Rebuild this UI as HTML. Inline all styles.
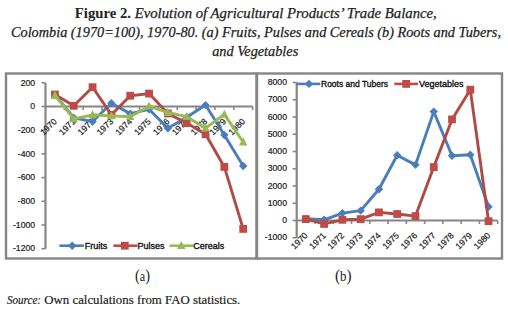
<!DOCTYPE html>
<html><head><meta charset="utf-8"><style>
html,body{margin:0;padding:0;background:#fff;}
body{width:508px;height:310px;overflow:hidden;position:relative;}
svg{position:absolute;left:0;top:0;}
.ax{font-family:"Liberation Sans",sans-serif;font-size:8.7px;fill:#1a1a1a;stroke:#1a1a1a;stroke-width:0.2px;}
.lg{font-family:"Liberation Sans",sans-serif;font-size:9px;fill:#111;stroke:#111;stroke-width:0.35px;}
.t{font-family:"Liberation Serif",serif;font-size:14.5px;fill:#222;stroke:#222;stroke-width:0.25px;}
.s{font-family:"Liberation Serif",serif;font-size:13px;fill:#222;stroke:#222;stroke-width:0.2px;}
.p{font-family:"Liberation Serif",serif;font-size:14px;fill:#222;}
</style></head><body>
<svg width="508" height="310" viewBox="0 0 508 310">
<text class="t" x="74.8" y="17.5" textLength="362" lengthAdjust="spacingAndGlyphs"><tspan font-weight="bold" style="stroke-width:0">Figure 2.</tspan><tspan font-style="italic"> Evolution of Agricultural Products’ Trade Balance,</tspan></text>
<text class="t" x="11" y="36.5" textLength="490" lengthAdjust="spacingAndGlyphs" font-style="italic">Colombia (1970=100), 1970-80. (a) Fruits, Pulses and Cereals (b) Roots and Tubers,</text>
<text class="t" x="212.2" y="55.5" textLength="86" lengthAdjust="spacingAndGlyphs" font-style="italic">and Vegetables</text>
<line x1="45.5" y1="82.8" x2="45.5" y2="248.7" stroke="#868686" stroke-width="2.2"/>
<line x1="41.5" y1="82.8" x2="45.5" y2="82.8" stroke="#868686" stroke-width="1.6"/>
<text x="35.2" y="85.5" class="ax" text-anchor="end">200</text>
<line x1="41.5" y1="106.5" x2="45.5" y2="106.5" stroke="#868686" stroke-width="1.6"/>
<text x="35.2" y="109.2" class="ax" text-anchor="end">0</text>
<line x1="41.5" y1="130.2" x2="45.5" y2="130.2" stroke="#868686" stroke-width="1.6"/>
<text x="35.2" y="132.9" class="ax" text-anchor="end">-200</text>
<line x1="41.5" y1="153.9" x2="45.5" y2="153.9" stroke="#868686" stroke-width="1.6"/>
<text x="35.2" y="156.6" class="ax" text-anchor="end">-400</text>
<line x1="41.5" y1="177.6" x2="45.5" y2="177.6" stroke="#868686" stroke-width="1.6"/>
<text x="35.2" y="180.3" class="ax" text-anchor="end">-600</text>
<line x1="41.5" y1="201.3" x2="45.5" y2="201.3" stroke="#868686" stroke-width="1.6"/>
<text x="35.2" y="204" class="ax" text-anchor="end">-800</text>
<line x1="41.5" y1="225" x2="45.5" y2="225" stroke="#868686" stroke-width="1.6"/>
<text x="35.2" y="227.7" class="ax" text-anchor="end">-1000</text>
<line x1="41.5" y1="248.7" x2="45.5" y2="248.7" stroke="#868686" stroke-width="1.6"/>
<text x="35.2" y="251.4" class="ax" text-anchor="end">-1200</text>
<line x1="45.5" y1="106.5" x2="252.6" y2="106.5" stroke="#868686" stroke-width="2.2"/>
<line x1="64.33" y1="106.5" x2="64.33" y2="110.0" stroke="#868686" stroke-width="1.6"/>
<line x1="83.15" y1="106.5" x2="83.15" y2="110.0" stroke="#868686" stroke-width="1.6"/>
<line x1="101.98" y1="106.5" x2="101.98" y2="110.0" stroke="#868686" stroke-width="1.6"/>
<line x1="120.81" y1="106.5" x2="120.81" y2="110.0" stroke="#868686" stroke-width="1.6"/>
<line x1="139.64" y1="106.5" x2="139.64" y2="110.0" stroke="#868686" stroke-width="1.6"/>
<line x1="158.46" y1="106.5" x2="158.46" y2="110.0" stroke="#868686" stroke-width="1.6"/>
<line x1="177.29" y1="106.5" x2="177.29" y2="110.0" stroke="#868686" stroke-width="1.6"/>
<line x1="196.12" y1="106.5" x2="196.12" y2="110.0" stroke="#868686" stroke-width="1.6"/>
<line x1="214.95" y1="106.5" x2="214.95" y2="110.0" stroke="#868686" stroke-width="1.6"/>
<line x1="233.77" y1="106.5" x2="233.77" y2="110.0" stroke="#868686" stroke-width="1.6"/>
<line x1="252.6" y1="106.5" x2="252.6" y2="110.0" stroke="#868686" stroke-width="1.6"/>
<text class="ax" text-anchor="end" transform="translate(57.31 122) rotate(-45)">1970</text>
<text class="ax" text-anchor="end" transform="translate(76.14 122) rotate(-45)">1971</text>
<text class="ax" text-anchor="end" transform="translate(94.97 122) rotate(-45)">1972</text>
<text class="ax" text-anchor="end" transform="translate(113.8 122) rotate(-45)">1973</text>
<text class="ax" text-anchor="end" transform="translate(132.62 122) rotate(-45)">1974</text>
<text class="ax" text-anchor="end" transform="translate(151.45 122) rotate(-45)">1975</text>
<text class="ax" text-anchor="end" transform="translate(170.28 122) rotate(-45)">1976</text>
<text class="ax" text-anchor="end" transform="translate(189.1 122) rotate(-45)">1977</text>
<text class="ax" text-anchor="end" transform="translate(207.93 122) rotate(-45)">1978</text>
<text class="ax" text-anchor="end" transform="translate(226.76 122) rotate(-45)">1979</text>
<text class="ax" text-anchor="end" transform="translate(245.59 122) rotate(-45)">1980</text>
<polyline points="54.91,94.65 73.74,117.76 92.57,121.55 111.4,103.3 130.22,113.61 149.05,109.34 167.88,128.19 186.7,117.16 205.53,105.08 224.36,135.06 243.19,165.99" fill="none" stroke="#4A7EBB" stroke-width="2.9" stroke-linejoin="round"/>
<path d="M54.91 90.45L59.11 94.65L54.91 98.85L50.71 94.65Z" fill="#4A7EBB"/>
<path d="M73.74 113.56L77.94 117.76L73.74 121.96L69.54 117.76Z" fill="#4A7EBB"/>
<path d="M92.57 117.35L96.77 121.55L92.57 125.75L88.37 121.55Z" fill="#4A7EBB"/>
<path d="M111.4 99.1L115.6 103.3L111.4 107.5L107.2 103.3Z" fill="#4A7EBB"/>
<path d="M130.22 109.41L134.42 113.61L130.22 117.81L126.02 113.61Z" fill="#4A7EBB"/>
<path d="M149.05 105.14L153.25 109.34L149.05 113.54L144.85 109.34Z" fill="#4A7EBB"/>
<path d="M167.88 123.99L172.08 128.19L167.88 132.39L163.68 128.19Z" fill="#4A7EBB"/>
<path d="M186.7 112.96L190.9 117.16L186.7 121.36L182.5 117.16Z" fill="#4A7EBB"/>
<path d="M205.53 100.88L209.73 105.08L205.53 109.28L201.33 105.08Z" fill="#4A7EBB"/>
<path d="M224.36 130.86L228.56 135.06L224.36 139.26L220.16 135.06Z" fill="#4A7EBB"/>
<path d="M243.19 161.79L247.39 165.99L243.19 170.19L238.99 165.99Z" fill="#4A7EBB"/>
<polyline points="54.91,94.53 73.74,105.79 92.57,87.18 111.4,114.8 130.22,95.72 149.05,93.58 167.88,113.49 186.7,123.09 205.53,134.23 224.36,166.94 243.19,228.91" fill="none" stroke="#B04A45" stroke-width="2.9" stroke-linejoin="round"/>
<rect x="51.01" y="90.63" width="7.8" height="7.8" fill="#BE4B48"/>
<rect x="69.84" y="101.89" width="7.8" height="7.8" fill="#BE4B48"/>
<rect x="88.67" y="83.28" width="7.8" height="7.8" fill="#BE4B48"/>
<rect x="107.5" y="110.89" width="7.8" height="7.8" fill="#BE4B48"/>
<rect x="126.32" y="91.82" width="7.8" height="7.8" fill="#BE4B48"/>
<rect x="145.15" y="89.68" width="7.8" height="7.8" fill="#BE4B48"/>
<rect x="163.98" y="109.59" width="7.8" height="7.8" fill="#BE4B48"/>
<rect x="182.8" y="119.19" width="7.8" height="7.8" fill="#BE4B48"/>
<rect x="201.63" y="130.33" width="7.8" height="7.8" fill="#BE4B48"/>
<rect x="220.46" y="163.03" width="7.8" height="7.8" fill="#BE4B48"/>
<rect x="239.29" y="225.01" width="7.8" height="7.8" fill="#BE4B48"/>
<polyline points="54.91,95.24 73.74,118.94 92.57,114.8 111.4,115.86 130.22,116.69 149.05,106.14 167.88,112.54 186.7,116.69 205.53,128.07 224.36,114.44 243.19,142.05" fill="none" stroke="#98B954" stroke-width="2.9" stroke-linejoin="round"/>
<path d="M54.91 90.54L59.11 98.64L50.71 98.64Z" fill="#98B954"/>
<path d="M73.74 114.24L77.94 122.34L69.54 122.34Z" fill="#98B954"/>
<path d="M92.57 110.09L96.77 118.2L88.37 118.2Z" fill="#98B954"/>
<path d="M111.4 111.16L115.6 119.26L107.2 119.26Z" fill="#98B954"/>
<path d="M130.22 111.99L134.42 120.09L126.02 120.09Z" fill="#98B954"/>
<path d="M149.05 101.44L153.25 109.54L144.85 109.54Z" fill="#98B954"/>
<path d="M167.88 107.84L172.08 115.94L163.68 115.94Z" fill="#98B954"/>
<path d="M186.7 111.99L190.9 120.09L182.5 120.09Z" fill="#98B954"/>
<path d="M205.53 123.37L209.73 131.47L201.33 131.47Z" fill="#98B954"/>
<path d="M224.36 109.74L228.56 117.84L220.16 117.84Z" fill="#98B954"/>
<path d="M243.19 137.35L247.39 145.45L238.99 145.45Z" fill="#98B954"/>
<line x1="59.4" y1="245.7" x2="83.9" y2="245.7" stroke="#4A7EBB" stroke-width="2.6"/>
<path d="M72.2 241.5L76.4 245.7L72.2 249.9L68 245.7Z" fill="#4A7EBB"/>
<text x="84.8" y="248.9" class="lg">Fruits</text>
<line x1="113.4" y1="245.7" x2="137.6" y2="245.7" stroke="#BE4B48" stroke-width="2.6"/>
<rect x="120.9" y="241.8" width="7.8" height="7.8" fill="#BE4B48"/>
<text x="137.6" y="248.9" class="lg">Pulses</text>
<line x1="169.5" y1="245.7" x2="193.5" y2="245.7" stroke="#98B954" stroke-width="2.6"/>
<path d="M181.3 241L185.5 249.1L177.1 249.1Z" fill="#98B954"/>
<text x="193.2" y="248.9" class="lg">Cereals</text>
<line x1="296.7" y1="82.5" x2="296.7" y2="237.75" stroke="#868686" stroke-width="2.2"/>
<line x1="292.7" y1="82.5" x2="296.7" y2="82.5" stroke="#868686" stroke-width="1.6"/>
<text x="287" y="85.2" class="ax" text-anchor="end">8000</text>
<line x1="292.7" y1="99.75" x2="296.7" y2="99.75" stroke="#868686" stroke-width="1.6"/>
<text x="287" y="102.45" class="ax" text-anchor="end">7000</text>
<line x1="292.7" y1="117" x2="296.7" y2="117" stroke="#868686" stroke-width="1.6"/>
<text x="287" y="119.7" class="ax" text-anchor="end">6000</text>
<line x1="292.7" y1="134.25" x2="296.7" y2="134.25" stroke="#868686" stroke-width="1.6"/>
<text x="287" y="136.95" class="ax" text-anchor="end">5000</text>
<line x1="292.7" y1="151.5" x2="296.7" y2="151.5" stroke="#868686" stroke-width="1.6"/>
<text x="287" y="154.2" class="ax" text-anchor="end">4000</text>
<line x1="292.7" y1="168.75" x2="296.7" y2="168.75" stroke="#868686" stroke-width="1.6"/>
<text x="287" y="171.45" class="ax" text-anchor="end">3000</text>
<line x1="292.7" y1="186" x2="296.7" y2="186" stroke="#868686" stroke-width="1.6"/>
<text x="287" y="188.7" class="ax" text-anchor="end">2000</text>
<line x1="292.7" y1="203.25" x2="296.7" y2="203.25" stroke="#868686" stroke-width="1.6"/>
<text x="287" y="205.95" class="ax" text-anchor="end">1000</text>
<line x1="292.7" y1="220.5" x2="296.7" y2="220.5" stroke="#868686" stroke-width="1.6"/>
<text x="287" y="223.2" class="ax" text-anchor="end">0</text>
<line x1="292.7" y1="237.75" x2="296.7" y2="237.75" stroke="#868686" stroke-width="1.6"/>
<text x="287" y="240.45" class="ax" text-anchor="end">-1000</text>
<line x1="296.7" y1="220.5" x2="497.7" y2="220.5" stroke="#868686" stroke-width="2.2"/>
<line x1="314.97" y1="220.5" x2="314.97" y2="224.0" stroke="#868686" stroke-width="1.6"/>
<line x1="333.25" y1="220.5" x2="333.25" y2="224.0" stroke="#868686" stroke-width="1.6"/>
<line x1="351.52" y1="220.5" x2="351.52" y2="224.0" stroke="#868686" stroke-width="1.6"/>
<line x1="369.79" y1="220.5" x2="369.79" y2="224.0" stroke="#868686" stroke-width="1.6"/>
<line x1="388.06" y1="220.5" x2="388.06" y2="224.0" stroke="#868686" stroke-width="1.6"/>
<line x1="406.34" y1="220.5" x2="406.34" y2="224.0" stroke="#868686" stroke-width="1.6"/>
<line x1="424.61" y1="220.5" x2="424.61" y2="224.0" stroke="#868686" stroke-width="1.6"/>
<line x1="442.88" y1="220.5" x2="442.88" y2="224.0" stroke="#868686" stroke-width="1.6"/>
<line x1="461.15" y1="220.5" x2="461.15" y2="224.0" stroke="#868686" stroke-width="1.6"/>
<line x1="479.43" y1="220.5" x2="479.43" y2="224.0" stroke="#868686" stroke-width="1.6"/>
<line x1="497.7" y1="220.5" x2="497.7" y2="224.0" stroke="#868686" stroke-width="1.6"/>
<text class="ax" text-anchor="end" transform="translate(308.24 236) rotate(-45)">1970</text>
<text class="ax" text-anchor="end" transform="translate(326.51 236) rotate(-45)">1971</text>
<text class="ax" text-anchor="end" transform="translate(344.78 236) rotate(-45)">1972</text>
<text class="ax" text-anchor="end" transform="translate(363.05 236) rotate(-45)">1973</text>
<text class="ax" text-anchor="end" transform="translate(381.33 236) rotate(-45)">1974</text>
<text class="ax" text-anchor="end" transform="translate(399.6 236) rotate(-45)">1975</text>
<text class="ax" text-anchor="end" transform="translate(417.87 236) rotate(-45)">1976</text>
<text class="ax" text-anchor="end" transform="translate(436.15 236) rotate(-45)">1977</text>
<text class="ax" text-anchor="end" transform="translate(454.42 236) rotate(-45)">1978</text>
<text class="ax" text-anchor="end" transform="translate(472.69 236) rotate(-45)">1979</text>
<text class="ax" text-anchor="end" transform="translate(490.96 236) rotate(-45)">1980</text>
<polyline points="305.84,218.78 324.11,219.81 342.38,213.08 360.65,210.67 378.93,189.29 397.2,155.29 415.47,164.87 433.75,111.6 452.02,155.8 470.29,154.79 488.56,206.7" fill="none" stroke="#4A7EBB" stroke-width="2.9" stroke-linejoin="round"/>
<path d="M305.84 214.58L310.04 218.78L305.84 222.97L301.64 218.78Z" fill="#4A7EBB"/>
<path d="M324.11 215.61L328.31 219.81L324.11 224.01L319.91 219.81Z" fill="#4A7EBB"/>
<path d="M342.38 208.88L346.58 213.08L342.38 217.28L338.18 213.08Z" fill="#4A7EBB"/>
<path d="M360.65 206.47L364.85 210.67L360.65 214.87L356.45 210.67Z" fill="#4A7EBB"/>
<path d="M378.93 185.09L383.13 189.29L378.93 193.49L374.73 189.29Z" fill="#4A7EBB"/>
<path d="M397.2 151.09L401.4 155.29L397.2 159.49L393 155.29Z" fill="#4A7EBB"/>
<path d="M415.47 160.67L419.67 164.87L415.47 169.07L411.27 164.87Z" fill="#4A7EBB"/>
<path d="M433.75 107.4L437.95 111.6L433.75 115.8L429.55 111.6Z" fill="#4A7EBB"/>
<path d="M452.02 151.6L456.22 155.8L452.02 160L447.82 155.8Z" fill="#4A7EBB"/>
<path d="M470.29 150.59L474.49 154.79L470.29 158.99L466.09 154.79Z" fill="#4A7EBB"/>
<path d="M488.56 202.5L492.76 206.7L488.56 210.9L484.36 206.7Z" fill="#4A7EBB"/>
<polyline points="305.84,219.12 324.11,223.95 342.38,219.81 360.65,219.12 378.93,212.39 397.2,214 415.47,216.1 433.75,167.09 452.02,119.4 470.29,89.69 488.56,221.19" fill="none" stroke="#B04A45" stroke-width="2.9" stroke-linejoin="round"/>
<rect x="301.94" y="215.22" width="7.8" height="7.8" fill="#BE4B48"/>
<rect x="320.21" y="220.05" width="7.8" height="7.8" fill="#BE4B48"/>
<rect x="338.48" y="215.91" width="7.8" height="7.8" fill="#BE4B48"/>
<rect x="356.75" y="215.22" width="7.8" height="7.8" fill="#BE4B48"/>
<rect x="375.03" y="208.49" width="7.8" height="7.8" fill="#BE4B48"/>
<rect x="393.3" y="210.1" width="7.8" height="7.8" fill="#BE4B48"/>
<rect x="411.57" y="212.2" width="7.8" height="7.8" fill="#BE4B48"/>
<rect x="429.85" y="163.19" width="7.8" height="7.8" fill="#BE4B48"/>
<rect x="448.12" y="115.5" width="7.8" height="7.8" fill="#BE4B48"/>
<rect x="466.39" y="85.79" width="7.8" height="7.8" fill="#BE4B48"/>
<rect x="484.66" y="217.29" width="7.8" height="7.8" fill="#BE4B48"/>
<line x1="296.5" y1="83.9" x2="320.3" y2="83.9" stroke="#4A7EBB" stroke-width="2.6"/>
<path d="M309 79.7L313.2 83.9L309 88.1L304.8 83.9Z" fill="#4A7EBB"/>
<text x="321" y="87.1" class="lg" textLength="67" lengthAdjust="spacingAndGlyphs">Roots and Tubers</text>
<line x1="394.3" y1="83.9" x2="418.1" y2="83.9" stroke="#BE4B48" stroke-width="2.6"/>
<rect x="402.3" y="80" width="7.8" height="7.8" fill="#BE4B48"/>
<text x="418.9" y="87.1" class="lg">Vegetables</text>
<rect x="6" y="73.5" width="251" height="185" fill="none" stroke="#868686" stroke-width="2.4"/>
<rect x="256.5" y="73.5" width="245.5" height="185" fill="none" stroke="#868686" stroke-width="2.4"/>
<text class="p" x="135" y="281" textLength="15" lengthAdjust="spacingAndGlyphs"><tspan font-size="16.5px">(</tspan>a<tspan font-size="16.5px">)</tspan></text>
<text class="p" x="335" y="281" textLength="16.5" lengthAdjust="spacingAndGlyphs"><tspan font-size="16.5px">(</tspan>b<tspan font-size="16.5px">)</tspan></text>
<text class="s" x="7" y="303.8" textLength="34" lengthAdjust="spacingAndGlyphs" font-style="italic">Source:</text><text class="s" x="44.3" y="303.8" textLength="196" lengthAdjust="spacingAndGlyphs">Own calculations from FAO statistics.</text>
</svg>
</body></html>
